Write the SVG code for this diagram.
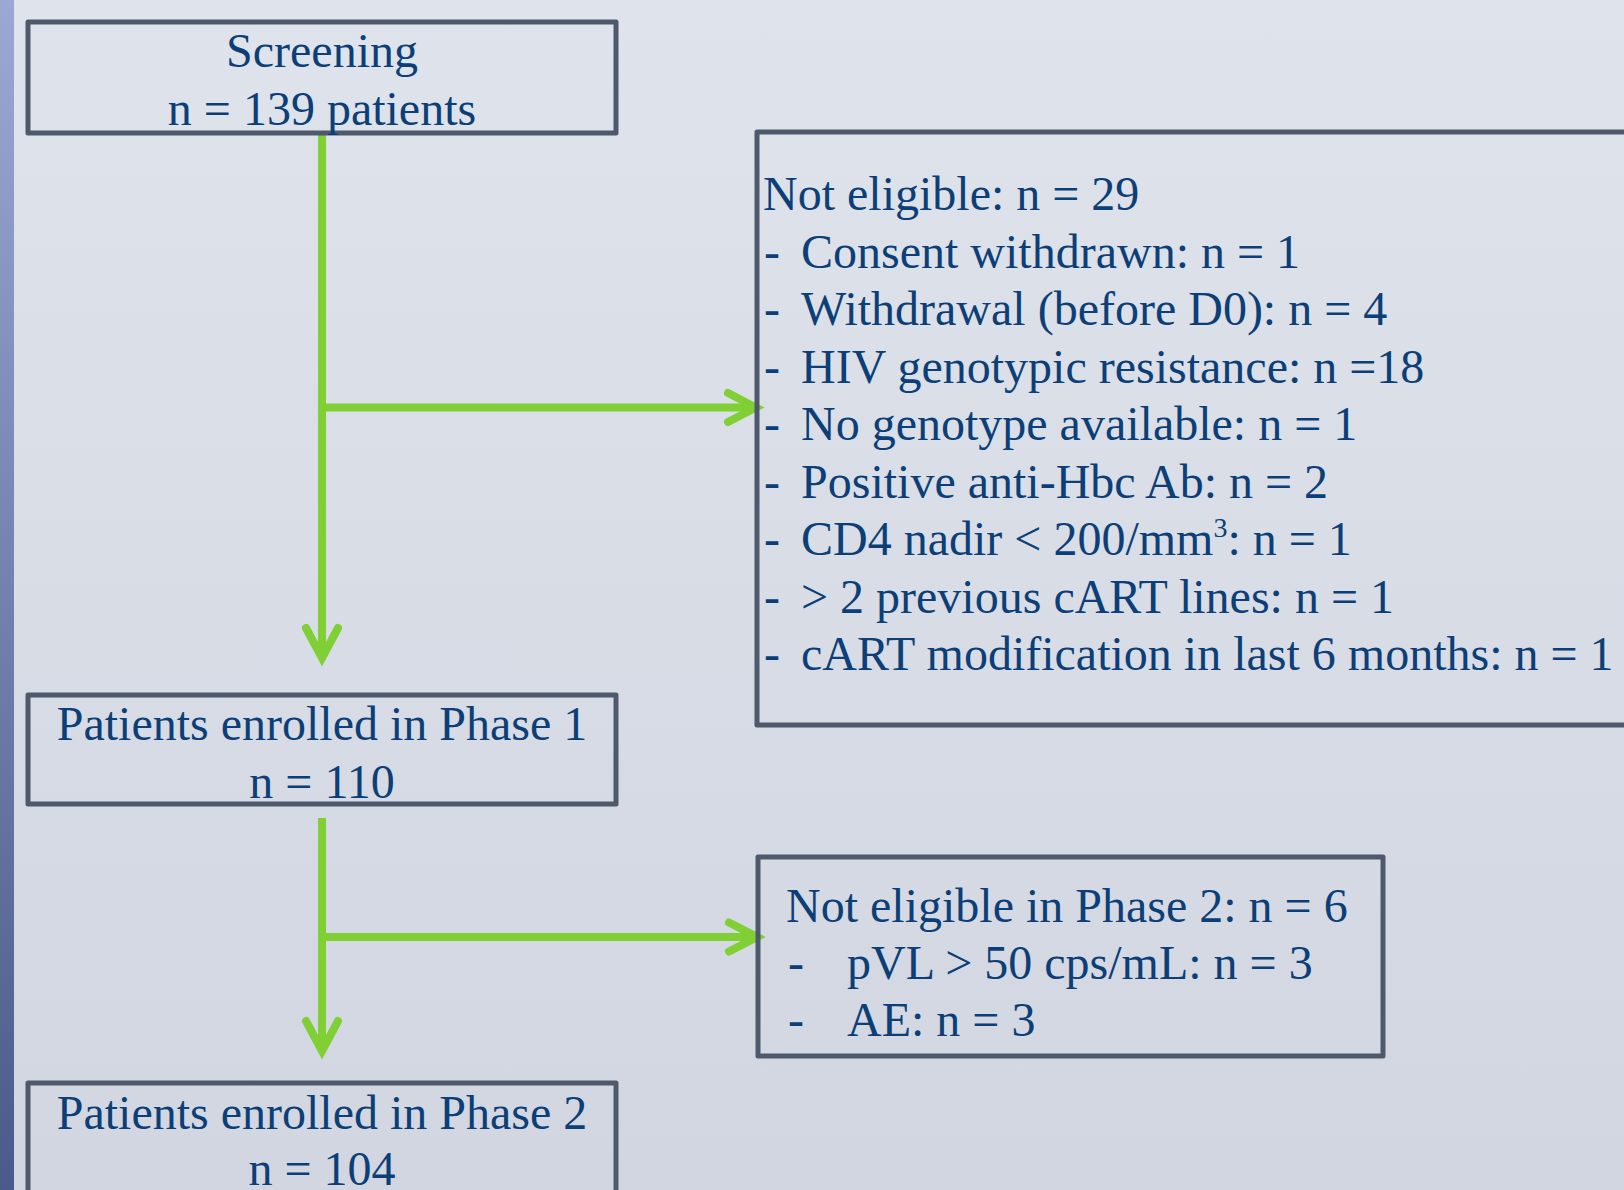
<svg xmlns="http://www.w3.org/2000/svg" width="1624" height="1190" viewBox="0 0 1624 1190">
<defs>
<linearGradient id="bg" x1="0" y1="0" x2="0" y2="1">
<stop offset="0" stop-color="#dfe3ec"/>
<stop offset="1" stop-color="#d2d6e0"/>
</linearGradient>
<linearGradient id="bar" x1="0" y1="0" x2="0" y2="1">
<stop offset="0" stop-color="#9ba8d3"/>
<stop offset="1" stop-color="#4a5a8a"/>
</linearGradient>
<style>
.box{fill:none;stroke:#4f596c;stroke-width:5;stroke-linejoin:round}
.t{font-family:"Liberation Serif","Times New Roman",serif;font-size:48px;fill:#0c3f77}
.c{text-anchor:middle}
.ln{fill:none;stroke:#7fcf35;stroke-width:8}
.hd{fill:none;stroke:#7fcf35;stroke-width:8;stroke-linecap:round;stroke-linejoin:miter}
</style>
</defs>
<rect x="0" y="0" width="1624" height="1190" fill="url(#bg)"/>
<rect x="0" y="0" width="14" height="1190" fill="url(#bar)"/>
<g id="connectors">
<line class="ln" x1="322" y1="132" x2="322" y2="656"/>
<polyline class="hd" points="306,628 322,658 338,628"/>
<line class="ln" x1="322" y1="407.5" x2="754" y2="407.5"/>
<polyline class="hd" points="728,393 756,407.5 728,422"/>
<line class="ln" x1="322" y1="818" x2="322" y2="1049"/>
<polyline class="hd" points="306,1021 322,1051 338,1021"/>
<line class="ln" x1="322" y1="937" x2="755" y2="937"/>
<polyline class="hd" points="729,922.5 757,937 729,951.5"/>
</g>
<g id="screening">
<rect class="box" x="28" y="22" width="588" height="111"/>
<text class="t c" x="322" y="67">Screening</text>
<text class="t c" x="322" y="125">n = 139 patients</text>
</g>
<g id="not-eligible">
<rect class="box" x="757" y="132" width="900" height="593"/>
<text class="t" x="763" y="210">Not eligible: n = 29</text>
<text class="t" x="764" y="267.5">-</text><text class="t" x="801" y="267.5">Consent withdrawn: n = 1</text>
<text class="t" x="764" y="325">-</text><text class="t" x="801" y="325">Withdrawal (before D0): n = 4</text>
<text class="t" x="764" y="382.5">-</text><text class="t" x="801" y="382.5">HIV genotypic resistance: n =18</text>
<text class="t" x="764" y="440">-</text><text class="t" x="801" y="440">No genotype available: n = 1</text>
<text class="t" x="764" y="497.5">-</text><text class="t" x="801" y="497.5">Positive anti-Hbc Ab: n = 2</text>
<text class="t" x="764" y="555">-</text><text class="t" x="801" y="555">CD4 nadir &lt; 200/mm<tspan font-size="28" dy="-18">3</tspan><tspan dy="18">: n = 1</tspan></text>
<text class="t" x="764" y="612.5">-</text><text class="t" x="801" y="612.5">&gt; 2 previous cART lines: n = 1</text>
<text class="t" x="764" y="670">-</text><text class="t" x="801" y="670">cART modification in last 6 months: n = 1</text>
</g>
<g id="phase1">
<rect class="box" x="28" y="695" width="588" height="109"/>
<text class="t c" x="322" y="740">Patients enrolled in Phase 1</text>
<text class="t c" x="322" y="798">n = 110</text>
</g>
<g id="not-eligible-phase2">
<rect class="box" x="758" y="857" width="625" height="199"/>
<text class="t" x="786" y="922">Not eligible in Phase 2: n = 6</text>
<text class="t" x="788" y="979">-</text><text class="t" x="847" y="979">pVL &gt; 50 cps/mL: n = 3</text>
<text class="t" x="788" y="1036">-</text><text class="t" x="847" y="1036">AE: n = 3</text>
</g>
<g id="phase2">
<rect class="box" x="28" y="1083" width="588" height="130"/>
<text class="t c" x="322" y="1129">Patients enrolled in Phase 2</text>
<text class="t c" x="322" y="1185">n = 104</text>
</g>
</svg>
